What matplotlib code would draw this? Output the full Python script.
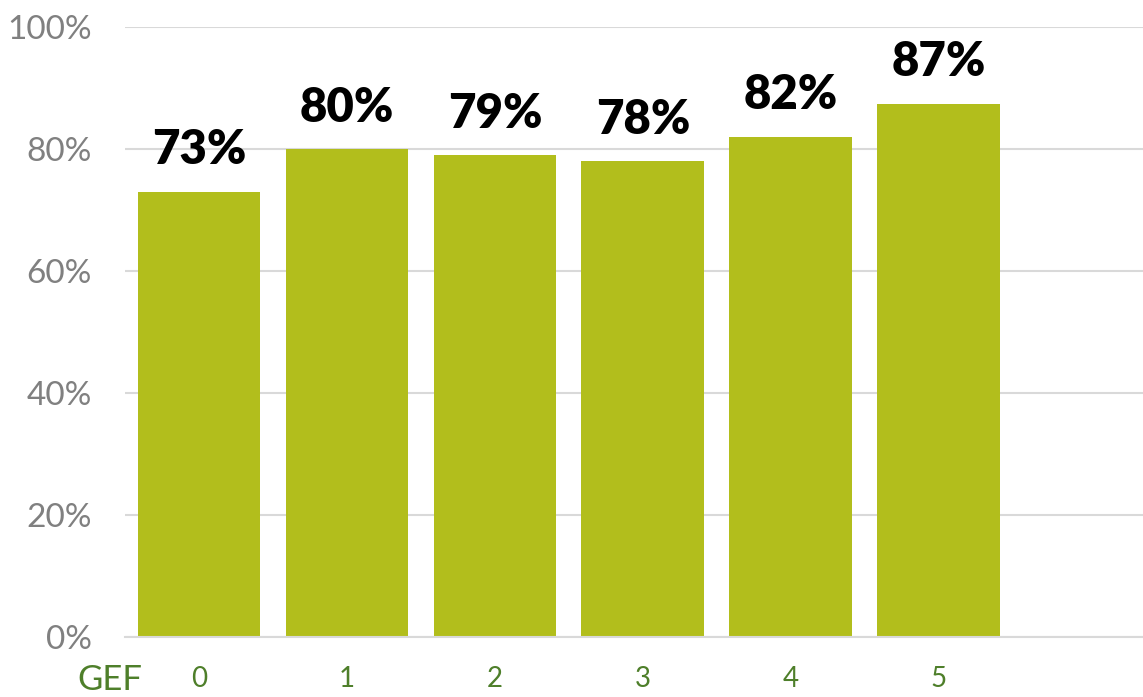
import matplotlib
matplotlib.use("Agg")
import matplotlib.pyplot as plt
from matplotlib.ticker import PercentFormatter

BAR, GREEN, GREY, GRID = "#B2BE1C", "#4E7F2A", "#808080", "#D9D9D9"

categories = ["0", "1", "2", "3", "4", "5"]
shares = [0.73, 0.80, 0.79, 0.78, 0.82, 0.874]
y_ticks = [0, 0.2, 0.4, 0.6, 0.8, 1.0]

plt.rcParams["font.family"] = ["Lato", "DejaVu Sans"]

W, H = 1143, 697
fig = plt.figure(figsize=(W / 100, H / 100), dpi=100)
ax = fig.add_axes([125 / W, 60 / H, (W - 125) / W, 610 / H])

x = range(len(categories))
bars = ax.bar(x, shares, width=0.83, color=BAR, zorder=3)
for r, v in zip(bars, shares):
    ax.text(r.get_x() + r.get_width() / 2, v + 0.045, f"{v:.0%}",
            ha="center", va="baseline", fontsize=34, fontweight="heavy", color="black")

ax.set_xlim(-0.5, 6.38)
ax.set_ylim(0, 1.0)
ax.set_yticks(y_ticks)
ax.yaxis.set_major_formatter(PercentFormatter(1.0, decimals=0))
ax.set_xticks(list(x))
ax.set_xticklabels(categories)
ax.tick_params(axis="y", length=0, pad=24, labelsize=24, labelcolor=GREY)
ax.tick_params(axis="x", length=0, pad=21, labelsize=20, labelcolor=GREEN)
ax.grid(axis="y", color=GRID, lw=1.5, zorder=0)
ax.set_axisbelow(True)
for s in ("left", "right", "top"):
    ax.spines[s].set_visible(False)
ax.spines["bottom"].set_color(GRID)
ax.spines["bottom"].set_linewidth(1.5)
ax.spines["bottom"].set_zorder(4)

fig.text(77 / W, 1 - 690 / H, "GEF", ha="left", va="baseline", fontsize=25, color=GREEN)

fig.savefig("out.png", dpi=100)
